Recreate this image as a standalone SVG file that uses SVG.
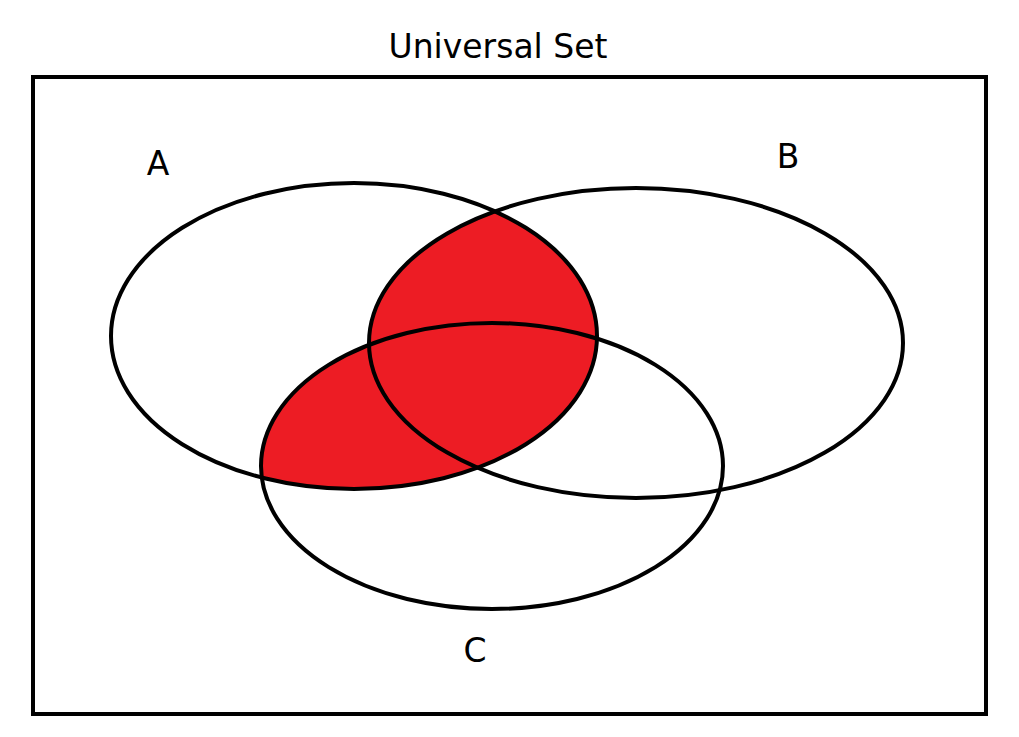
<svg xmlns="http://www.w3.org/2000/svg" width="1019" height="737" viewBox="0 0 1019 737">
<style>
.o{fill:none;stroke:#000;stroke-width:4}
.t{font-family:"DejaVu Sans",sans-serif;font-size:33px;fill:#000}
</style>
<defs>
<clipPath id="ca"><ellipse cx="354" cy="336" rx="243" ry="153"/></clipPath>
</defs>
<rect width="1019" height="737" fill="#fff"/>
<g clip-path="url(#ca)" fill="#ed1c24">
<ellipse cx="636" cy="343" rx="267" ry="155"/>
<ellipse cx="492" cy="466" rx="231" ry="143"/>
</g>
<rect id="universe" class="o" x="33" y="77" width="953" height="637"/>
<g id="A"><ellipse class="o" cx="354" cy="336" rx="243" ry="153"/><text class="t" x="158" y="175" text-anchor="middle">A</text></g>
<g id="B"><ellipse class="o" cx="636" cy="343" rx="267" ry="155"/><text class="t" x="788" y="168" text-anchor="middle">B</text></g>
<g id="C"><ellipse class="o" cx="492" cy="466" rx="231" ry="143"/><text class="t" x="475" y="662" text-anchor="middle">C</text></g>
<text class="t" x="498" y="58" text-anchor="middle">Universal Set</text>
<g id="connectors"/>
</svg>
